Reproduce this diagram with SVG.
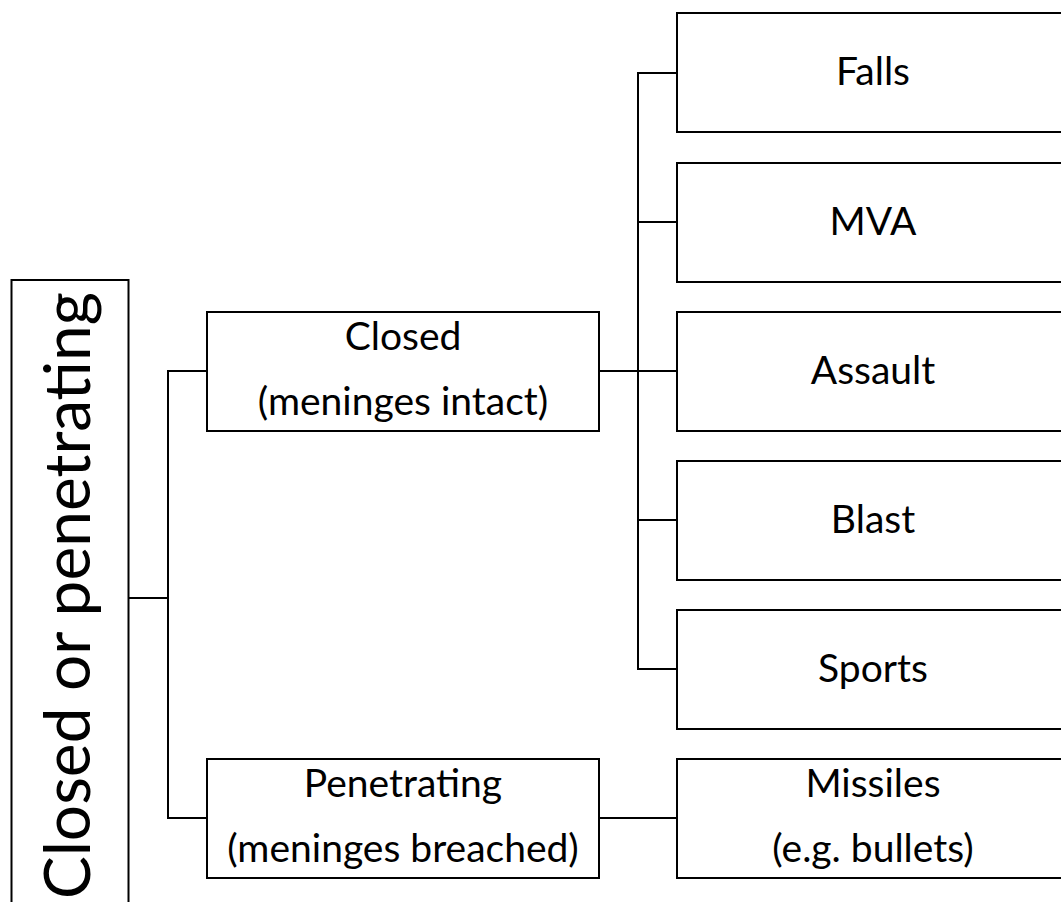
<svg xmlns="http://www.w3.org/2000/svg" width="1061" height="902" viewBox="0 0 1061 902">
<style>
.box{fill:#fff;stroke:#000;stroke-width:2}
.t{font-family:Lato,"Liberation Sans",sans-serif;font-size:39px;fill:#000;text-anchor:middle}
.big{font-family:Lato,"Liberation Sans",sans-serif;font-size:64px;fill:#000;text-anchor:middle}
.c{fill:none;stroke:#000;stroke-width:2}
</style>
<rect width="1061" height="902" fill="#fff"/>
<g id="connectors">
<path class="c" d="M129 598H168M207 371H168V818H207"/>
<path class="c" d="M599 371H638M677 73H638V669H677M638 222H677M638 371H677M638 520H677"/>
<path class="c" d="M599 818H677"/>
</g>
<g id="root">
<rect class="box" x="11.5" y="280" width="117" height="640"/>
<text class="big" transform="translate(90,595.5) rotate(-90)">Closed or penetrating</text>
</g>
<g id="closed">
<rect class="box" x="207" y="312" width="392" height="119"/>
<text class="t" x="403" y="350">Closed</text>
<text class="t" x="403" y="415">(meninges intact)</text>
</g>
<g id="penetrating">
<rect class="box" x="207" y="759" width="392" height="119"/>
<text class="t" x="403" y="797">Penetrating</text>
<text class="t" x="403" y="862">(meninges breached)</text>
</g>
<g id="falls">
<rect class="box" x="677" y="13" width="392" height="119"/>
<text class="t" x="873" y="85">Falls</text>
</g>
<g id="mva">
<rect class="box" x="677" y="163" width="392" height="119"/>
<text class="t" x="873" y="235">MVA</text>
</g>
<g id="assault">
<rect class="box" x="677" y="312" width="392" height="119"/>
<text class="t" x="873" y="384">Assault</text>
</g>
<g id="blast">
<rect class="box" x="677" y="461" width="392" height="119"/>
<text class="t" x="873" y="533">Blast</text>
</g>
<g id="sports">
<rect class="box" x="677" y="610" width="392" height="119"/>
<text class="t" x="873" y="682">Sports</text>
</g>
<g id="missiles">
<rect class="box" x="677" y="759" width="392" height="119"/>
<text class="t" x="873" y="797">Missiles</text>
<text class="t" x="873" y="862">(e.g. bullets)</text>
</g>
</svg>
